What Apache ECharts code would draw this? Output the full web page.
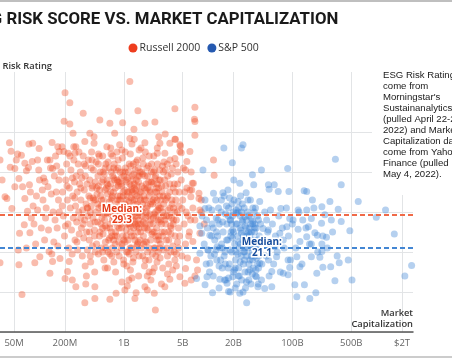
<!DOCTYPE html>
<html><head><meta charset="utf-8">
<script src="https://cdn.jsdelivr.net/npm/echarts@6/dist/echarts.min.js"></script>
<style>html,body{margin:0;padding:0;background:#fff}#c{width:452px;height:360px}</style>
</head><body><div id="c"></div>
<script>
// Market cap in $ millions, ESG risk rating
const russell2000 = [
[34,43],[36,38],[39,33.8],[41,33.4],[44,47.3],[45,41.2],[46,45.2],[47,30.9],[51,40.9],[51,36.3],[53,43],[55,44.5],[56,20.5],[57,38.4],[58,24.7],[34,17.3],[57,16.8],[62,9.4],
[61,44.2],[63,36.3],[66,26.8],[67,33.4],[67,42.2],[70,40.3],[74,41.1],[76,36.8],[77,24.8],[82,42.6],[84,31.5],[83,47.2],[75,47],[88,17.3],[95,43],[98,40.5],[101,18.8],[99,45.9],[100,38],
[72,30.2],[80,28.5],[90,22],[92,34],[86,27],[95,30.5],[70,21],[78,35],
[116,37.6],[124,43],[133,43],[126,36.3],[130,20.1],[133,14.7],[143,17.6],[143,40.9],[141,47.4],[165,46.3],[171,45.1],[175,18.4],[153,28],[110,33],[120,31],[138,34.5],[150,39],[160,41.5],[105,26],[115,23],[128,25.5],[145,30],[158,35],[168,33],[112,38.5],[148,22.5],[162,26],[170,38],[135,41],[155,44],[118,28.5],[172,30],[165,21.5],[140,19.5],[108,35.5],
[201,59.8],[229,57.3],[196,52.7],[229,52],[215,15.1],[201,13.4],[245,13],[225,17.6],[270,11.3],[250,49.7],[255,46.3],[263,44.7],[185,46.3],[195,45.1],[219,44.7],[270,46.3],
[180,40],[188,35],[192,29],[198,24],[205,38],[210,42],[214,33],[218,27],[222,21],[226,36],[232,31],[236,40.5],[240,25.5],[244,19.5],[248,34],[252,28.5],[256,43],[260,37.5],[264,23],[268,31.5],[272,39],[276,27.5],[280,35],[284,20.5],[288,42],[292,30],[296,24.5],[300,37],[186,31.5],[203,26.5],[212,36.5],[230,44],[246,38.5],[262,33.5],[278,22.5],[294,45],
[345,7.3],[454,8.4],[354,12],[454,11.3],[345,47.6],[396,49.7],[444,48.8],[444,47.2],[520,53],[330,54.7],
[305,40],[310,33],[314,26],[318,38.5],[322,19],[326,30.5],[330,44],[335,23.5],[340,35.5],[344,28],[348,16.5],[352,41.5],[357,32],[362,25],[366,37],[370,20.5],[375,29],[380,43],[385,34],[390,23],[395,38],[400,27],[405,17.5],[410,31.5],[415,45],[420,36],[425,21.5],[430,28.5],[436,40.5],[442,33],[448,25.5],[452,15],[458,37.5],[464,30],[470,42.5],[476,22],[482,34.5],[488,27.5],[494,39],[500,19.5],[506,31],[512,44],[516,35.5],[308,28.5],[338,42],[368,31],[398,33.5],[428,36.5],[460,20],[490,32],[515,24],
[630,46.3],[684,52.2],[780,49.7],[684,8.2],[810,9.7],[860,55.2],[893,46.8],[970,52.3],
[525,40],[532,34],[538,27],[544,21],[550,37.5],[556,30],[562,44],[568,24.5],[574,33],[580,18],[586,39.5],[592,28],[598,35.5],[605,22.5],[612,42],[620,31],[627,26],[634,38],[641,16],[648,29.5],[655,36.5],[662,23],[669,41],[676,32.5],[683,19.5],[690,27],[698,37],[706,44.5],[714,25],[722,33.5],[730,21],[738,39],[746,29],[754,35],[762,17.5],[770,42],[778,30.5],[786,24],[794,36],[802,27.5],[810,40.5],[818,32],[826,20],[834,38],[842,26.5],[850,34],[858,43],[866,29],[874,22.5],[882,37.5],[890,31],[540,31.5],[570,38],[600,26.5],[640,34.5],[680,23.5],[720,30],[760,38.5],[800,25],[840,33],[880,26],[560,20],[620,36],[700,33],[780,28],[860,36.5],[650,42.5],[740,44],[830,45],
[1180,62.6],[1470,55.3],[1320,50.7],[1180,48.4],[1330,48.2],[1520,45.5],[1030,10.5],[1355,8.4],[1400,9.8],[950,12.5],[1100,11.5],[1250,13.5],
[905,40],[915,33],[925,27],[935,21],[945,36.5],[955,30],[965,43.5],[975,24],[985,34],[995,18],[1005,39],[1015,28.5],[1025,35.5],[1035,22.5],[1045,41],[1055,31.5],[1066,25.5],[1078,37.5],[1090,16.5],[1100,29.5],[1112,35],[1124,23],[1136,40],[1148,32.5],[1160,19.5],[1172,27],[1184,37],[1196,44.5],[1208,25],[1220,33.5],[1232,21],[1245,39],[1258,29],[1271,35],[1284,17.5],[1297,42],[1310,30.5],[1324,24],[1338,36],[1352,27.5],[1366,40.5],[1380,32],[1394,20],[1408,38],[1422,26.5],[1436,34],[1450,43],[1465,29],[1480,22.5],[1495,37.5],[1510,31],[1525,26],[1540,35],[920,37],[960,28],[1000,31],[1040,45],[1080,20],[1120,38.5],[1160,30],[1200,26.5],[1240,35.5],[1280,28],[1320,39.5],[1360,23],[1400,31],[1440,36.5],[1480,41],[1520,19],[1060,33],[1190,31.5],[1330,33],[1460,25],
[1780,52.2],[2340,52.5],[1780,47.3],[2680,47.2],[3100,49.5],[2600,48.8],[2370,5.5],[2300,9.7],[1780,11.3],[2500,44.7],
[1560,40],[1580,33],[1600,27],[1620,21],[1640,36.5],[1660,30],[1685,43.5],[1710,24],[1735,34],[1760,16.5],[1785,39],[1810,28.5],[1835,35.5],[1860,22.5],[1885,41],[1910,31.5],[1940,25.5],[1970,37.5],[2000,15],[2030,29.5],[2060,35],[2090,23],[2120,40],[2150,32.5],[2180,19.5],[2210,27],[2240,37],[2270,44],[2300,25],[2330,33.5],[2360,21],[2390,39],[2420,29],[2450,35],[2480,17.5],[2510,42],[2540,30.5],[2570,24],[2600,36],[2630,27.5],[2660,40.5],[1600,31],[1680,19],[1760,26],[1840,30],[1920,36],[2000,21],[2080,32],[2160,37.5],[2240,28.5],[2320,40.5],[2400,24],[2480,33],[2560,20],[2640,31],[1700,42],[1900,14],[2100,13],[2300,16],[1800,45],
[3520,47.2],[4040,48.2],[3070,44.7],[4040,43.4],[4630,46.8],[4630,45.1],[3070,11.3],[3520,13.2],[4630,13.8],[4040,18],
[2700,38],[2760,31],[2820,25],[2880,41.5],[2940,34],[3000,20.5],[3070,28],[3140,36.5],[3210,23],[3280,42],[3350,30.5],[3420,17],[3500,35],[3580,26.5],[3660,39.5],[3740,32],[3820,21.5],[3900,28],[3980,37],[4060,24],[4140,33],[4220,19.5],[4300,30],[4380,40],[4460,26],[4540,35],[2730,22],[2850,35],[2980,29],[3110,40.5],[3250,33.5],[3390,25],[3540,43],[3700,28.5],[3860,36],[4020,30],[4180,42],[4340,22.5],[4500,31.5],[2900,16],[3300,14.5],[3800,15.5],[4200,16.5],[4600,24],[3600,20],
[6980,56.2],[4040,55.8],[6900,53.2],[6980,49.2],[4100,48.2],[6090,45.1],[5400,40.5],[5600,42.6],[6100,35.5],[6700,37.2],[7800,34.7],[8300,33],[8000,30.5],[6980,28],[8000,24.7],[6600,22.6],[5400,15.9],[7300,18],[7500,15.5],[6300,13],[5300,12.2],[6980,14],[6980,52.6],[4700,46.5],[4800,44.8],[6500,37.2],[6400,35.5],[7800,33.4],[6250,33.8],[4900,30.9],
[4800,38],[5000,33],[5200,27],[5400,22],[5600,36],[5800,29],[6000,25],[6300,40],[6600,31],[4900,19],[5700,18.5],[5100,41],[5300,35],[5500,30],[5900,24],[6200,28],
[11600,43],[11800,39.2],[8300,30],[9000,27],
[310,36],[330,27],[350,39],[372,31],[392,25],[412,41],[433,33.5],[455,27.5],[478,36],[500,42],[522,25],[545,33],[568,40],[590,29.5],[612,21],[636,37],[660,31],[684,26],[708,40],[732,34],[756,23],[780,38],[805,30],[830,24],[855,41],[880,33],[905,28],[930,38.5],[955,22],[980,35],[1010,29],[1040,40],[1070,24],[1100,34],[1130,27],[1160,42],[1190,21],[1220,36.5],[1250,30],[1280,38],[1310,26],[1340,34.5],[1370,29],[1400,42.5],[1430,21.5],[1460,32],[1490,27],[1520,39],[1560,23],[1600,35],[1640,29],[1680,39.5],[1720,22],[1760,33],[1800,27],[1840,37],[1880,31],[1920,20],[1960,41.5],[2000,34],[2050,27],[2100,37.5],[2150,24.5],[2200,32],[2250,40],[2300,29.5],[2350,35],[2400,19],[2450,26],[2500,37],[2560,31.5],[2620,23],[2680,34],[2750,28],[2820,36.5],[2900,24],[2980,32],[3060,38],[3140,27],[3230,21],[3320,34],[3420,29],[3520,37],[3620,24.5],[3730,33],[3850,27],[3960,20],[4080,35],[4200,28],[4350,37],[4480,21],
[400,19],[600,16],[800,15],[1000,17],[1200,15.5],[1500,14],[1800,18],[2200,15],[2700,18.5],[3300,19],[500,44.5],[700,46],[950,45.5],[1250,47],[1600,46],[2000,44],[2500,46],[3000,42.5],[420,43],[720,19],[1150,13],[1900,10.5],[2800,12],[360,14],
[700,35],[730,28],[760,41],[790,22],[820,31],[850,37.5],[880,19],[910,34],[940,26],[970,40],[1000,23],[1030,32],[1060,38],[1090,27],[1120,20],[1150,35],[1180,29],[1210,41.5],[1240,24],[1270,33],[1300,18.5],[1330,37],[1360,27],[1390,35.5],[1420,30],[1450,22],[1480,39],[1510,28],[1550,33.5],[1590,25],[1630,40],[1670,32],[1710,27.5],[1750,36],[1790,22.5],[1830,33],[1870,26],[1910,39],[1950,29],[1990,18],[2040,35.5],[2090,28],[2140,42],[2190,25],[2240,33],[2290,21],[2340,38.5],[2390,30],[2440,36],[2490,23],[2550,28],[2610,38],[2670,21],[2740,33],[2810,27],[2880,30],[2960,40],[3040,25],[3130,33],[3220,29],[3320,39],[3420,23],[3530,31],[3650,26],[3770,41],[3890,31],[400,30],[450,24],[500,36.5],[550,28.5],[600,41],[650,20],[460,33],[560,26],[640,30],[720,24]
];
const sp500 = [
[15400,46],[24900,46],[26000,46.8],[19400,42.3],[8700,40.5],[20200,38],[23800,37.2],[33600,39.3],[43000,40.5],[88000,40.9],[324000,43.2],[380000,36.8],[34800,36.8],[52000,36.8],[61000,36.8],[53000,35.7],[68000,35.1],[91000,35.1],[138000,35.3],[148000,35.1],[173000,33],[279000,32.6],[605000,32.6],[1275000,30.5],[990000,28.7],[1620000,24.5],[2600000,16.6],[2160000,14],
[481000,25.3],[380000,27.6],[290000,28],[222000,27.2],[185000,24.8],[148000,23.8],[123000,22.6],[168000,22],[224000,22],[254000,23.7],[360000,17.3],[460000,18],[510000,13],[320000,12.8],[230000,16.2],[195000,14.7],[190000,9.8],[161000,8.4],[113000,8.8],[139000,11.8],[107000,11.8],[89000,14.3],[93000,16.1],[78000,14.7],[57000,15.1],[47000,10.9],[57000,11.3],[39000,11.3],[28700,7.3],[23800,9.7],[17500,10.1],[11300,9.8],[9200,11.8],[7300,13.4],[16800,12.2],[13800,13.2],
[123000,16.3],[113000,18.8],[89000,18],[212000,18.7],[168000,18.8],[285000,16.3],[86000,26.3],[102000,28],[133000,28],[73000,30.9],[55000,30.5],[41000,32.6],[29700,33],[22700,32.6],[17200,35.5],[14400,33],[28300,34.8],[15000,34.8],[11600,34.7],[9200,30.9],[8000,26.5],[8400,24.7],[10500,24.2],[10000,20.5],[10500,17.2],[9700,13.8],[12800,21.3],[8000,19.7],
[34000,21.7],[62000,21.3],[65000,18.8],[52000,18],[41000,17.2],[31300,15.5],[37500,13.8],[43000,13],[19600,13.8],[49500,28],[45000,25.9],[34000,27.6],[27300,28.8],[21700,29.7],[18200,28],[19600,25.5],[24900,24.7],[52000,25.5],[71000,24.7],[78000,23],[117000,25.7],[155000,26.3],[198000,24.2],[224000,20.1],[168000,28.4],[243000,29.3],[224000,31.3],[350000,30.7],[148000,30.5],[117000,30.5],[93000,28.4],
[8500,29],[9000,22],[9500,17],[9800,26],[10200,31],[10800,19],[11200,27],[11500,14],[12000,23],[12300,33],[12700,18],[13100,28],[13500,11],[13900,21],[14300,30],[14700,16],[15100,25],[15500,34],[15900,20],[16300,13],[16700,27],[17100,23],[17500,31],[17900,17],[18300,10],[18700,25],[19100,20],[19500,29],[19900,15],[20300,33],[20700,22],[21100,18],[21500,27],[21900,12],[22300,24],[22700,30],[23100,16],[23500,21],[23900,26],[24300,34],[24700,19],[25100,13],[25500,28],[25900,23],[26300,17],[26800,31],[27300,21],[27800,11],[28300,26],[28800,19],[29300,24],[29800,15],[30300,29],[30800,22],[31300,18],[31800,33],[32300,12],[32800,25],[33300,20],[33800,27],[34300,16],[34800,23],[35300,30],[35800,19],[36500,14],[37200,26],[38000,21],[38800,17],[39600,28],[40500,24],
[9200,33],[10000,20.5],[11000,24],[12500,28.5],[13500,16.5],[14500,22],[15500,19],[16500,31.5],[17500,13.5],[18500,28],[19500,23.5],[20500,15.5],[21500,30.5],[22500,19.5],[23500,14],[24500,25.5],[25500,32],[26500,20],[27500,26.5],[28500,12.5],[29500,30],[30500,17],[31500,24.5],[32500,28.5],[33500,14.5],[34500,21],[35500,26],[36500,31],[37500,18.5],[38500,23],[39500,12],[41000,20],[42000,27],[43500,17],[45000,23],[47000,30],[49000,19],[51000,25],[53000,14],[55000,22],[58000,27],[60000,17],[63000,24],[66000,20],[69000,29],[72000,15],[76000,26],[80000,21],[85000,31],[90000,24],[95000,18],[100000,27],[110000,21],[120000,30],[130000,17],[145000,26],[160000,22],[180000,31],[200000,20],[230000,24],[260000,21],[300000,25],[340000,19],
[9600,28],[10400,15],[11100,30.5],[11900,19.5],[12600,25],[13300,31],[14100,18],[14900,27.5],[15700,13],[16600,23],[17400,29],[18200,20.5],[19200,32],[20100,25],[21000,11],[22000,27],[23000,22.5],[24000,17.5],[25000,30],[26200,24],[27400,15],[28600,28],[29900,21],[31200,26],[32600,19],[34000,31],[35500,22],[37000,15.5],[38500,29],[40000,19],[16000,17],[18000,33.5],[21000,16],[24000,29],[27000,18],[30000,25],[33000,23],[36000,27],[13000,24],[19000,27],[23000,31],[26000,10],
[11500,26],[12400,20.5],[13600,27],[14800,21],[16100,29.5],[17300,16],[18600,24],[20000,30],[21400,20],[22800,14],[24200,22],[25700,27.5],[27200,20],[28800,24.5],[30400,13],[32100,27],[33800,18],[35600,25],[37600,21],[39700,16]
];
const russellMedian = 29.3;
const spMedian = 21.1;
const tickCaps = [5e7, 2e8, 1e9, 5e9, 2e10, 1e11, 5e11, 2e12];
const tickLabels = ['50M', '200M', '1B', '5B', '20B', '100B', '500B', '$2T'];
const capRange = [3.4e7, 2.7e12];
const riskTicks = [0, 10, 20, 30, 40, 50, 60];
const riskMax = 65;

const toPt = d => [Math.log10(d[0] * 1e6), d[1]];
const FONT = '"Open Sans", sans-serif';
const chart = echarts.init(document.getElementById('c'), null, {renderer: 'canvas'});
const tickLogs = tickCaps.map(v => Math.log10(v));

chart.setOption({
  animation: false,
  textStyle: {fontFamily: FONT},
  grid: {left: 0, right: 39, top: 72, bottom: 28, containLabel: false},
  legend: {
    left: 128.5, top: 42.5, padding: 0, itemWidth: 9, itemHeight: 9, itemGap: 7, icon: 'circle',
    textStyle: {fontSize: 10.5, color: '#333', fontFamily: FONT, padding: [0, 0, 0, -3]},
    data: [
      {name: 'Russell 2000', itemStyle: {color: '#ee3d1e', opacity: 1}},
      {name: 'S&P 500', itemStyle: {color: '#2559b0', opacity: 1}}
    ]
  },
  xAxis: {
    type: 'value', min: Math.log10(capRange[0]), max: Math.log10(capRange[1]),
    axisLine: {show: true, lineStyle: {color: '#555', width: 1.5}},
    axisTick: {show: false, customValues: tickLogs},
    axisLabel: {
      customValues: tickLogs, color: '#666', fontSize: 9.5, margin: 6, fontFamily: FONT,
      formatter: v => {
        let best = 0;
        tickLogs.forEach((t, i) => { if (Math.abs(t - v) < Math.abs(tickLogs[best] - v)) best = i; });
        return tickLabels[best];
      }
    },
    splitLine: {show: true, lineStyle: {color: '#e2e4e6', width: 1}}
  },
  yAxis: {
    type: 'value', min: 0, max: riskMax, interval: 10,
    axisLine: {show: false}, axisTick: {show: false, customValues: riskTicks},
    axisLabel: {show: false},
    splitLine: {show: true, showMaxLine: false, lineStyle: {color: '#e2e4e6', width: 1}}
  },
  series: [
    {
      name: 'Russell 2000', type: 'scatter', symbolSize: 7,
      data: russell2000.map(toPt),
      itemStyle: {color: '#ef4f27', opacity: 0.38},
      emphasis: {disabled: true},
      markLine: {
        silent: true, symbol: 'none', z: 5,
        lineStyle: {type: [5, 3], color: '#f06a48', width: 1.8, opacity: 1},
        label: {show: false},
        data: [{yAxis: russellMedian}]
      },
      markPoint: {
        silent: true, symbol: 'circle', symbolSize: 1, z: 6,
        itemStyle: {color: 'transparent'},
        label: {show: true, position: 'inside', color: '#e63b18', fontWeight: 'bold', fontSize: 10,
          lineHeight: 11, textBorderColor: '#fff', textBorderWidth: 3, fontFamily: FONT,
          formatter: 'Median:\n' + russellMedian},
        data: [{coord: [Math.log10(9.5e8), russellMedian]}]
      }
    },
    {
      name: 'S&P 500', type: 'scatter', symbolSize: 7,
      data: sp500.map(toPt),
      itemStyle: {color: '#3d84d4', opacity: 0.38},
      emphasis: {disabled: true},
      markLine: {
        silent: true, symbol: 'none', z: 5,
        lineStyle: {type: [5, 3], color: '#4386d3', width: 1.8, opacity: 1},
        label: {show: false},
        data: [{yAxis: spMedian}]
      },
      markPoint: {
        silent: true, symbol: 'circle', symbolSize: 1, z: 6,
        itemStyle: {color: 'transparent'},
        label: {show: true, position: 'inside', color: '#164c9c', fontWeight: 'bold', fontSize: 10,
          lineHeight: 11, textBorderColor: '#fff', textBorderWidth: 3, fontFamily: FONT,
          formatter: 'Median:\n' + spMedian},
        data: [{coord: [Math.log10(4.35e10), spMedian]}]
      }
    }
  ],
  graphic: [
    {type: 'line', shape: {x1: 0, y1: 1, x2: 452, y2: 1}, style: {stroke: '#aaa', lineWidth: 1.5}, z: 100},
    {type: 'line', shape: {x1: 0, y1: 357, x2: 452, y2: 357}, style: {stroke: '#bbb', lineWidth: 1.5}, z: 100},
    {type: 'text', x: -29, y: 20, z: 100,
      style: {text: 'ESG RISK SCORE VS. MARKET CAPITALIZATION', font: 'bold 16.8px Roboto, sans-serif',
        fill: '#1a1a1a', textVerticalAlign: 'middle'}},
    {type: 'text', x: 52, y: 66, z: 100,
      style: {text: 'ESG Risk Rating', font: '600 9.3px "Open Sans", sans-serif', fill: '#333',
        textAlign: 'right', textVerticalAlign: 'middle'}},
    {type: 'text', x: 413, y: 319, z: 100,
      style: {text: 'Market\nCapitalization', font: '600 9.3px "Open Sans", sans-serif', fill: '#333',
        textAlign: 'right', textVerticalAlign: 'middle', lineHeight: 11.5}},
    {type: 'rect', shape: {x: 372, y: 58, width: 80, height: 137}, style: {fill: '#fff'}, z: 90},
    {type: 'text', x: 383, y: 69.5, z: 100,
      style: {text: "ESG Risk Ratings\ncome from\nMorningstar's\nSustainanalytics\n(pulled April 22-26,\n2022) and Market\nCapitalization data\ncome from Yahoo\nFinance (pulled\nMay 4, 2022).",
        font: '9.6px "Liberation Sans", Arial, sans-serif', fill: '#1a1a1a', lineHeight: 11, textVerticalAlign: 'top'}}
  ]
});
</script>
</body></html>
